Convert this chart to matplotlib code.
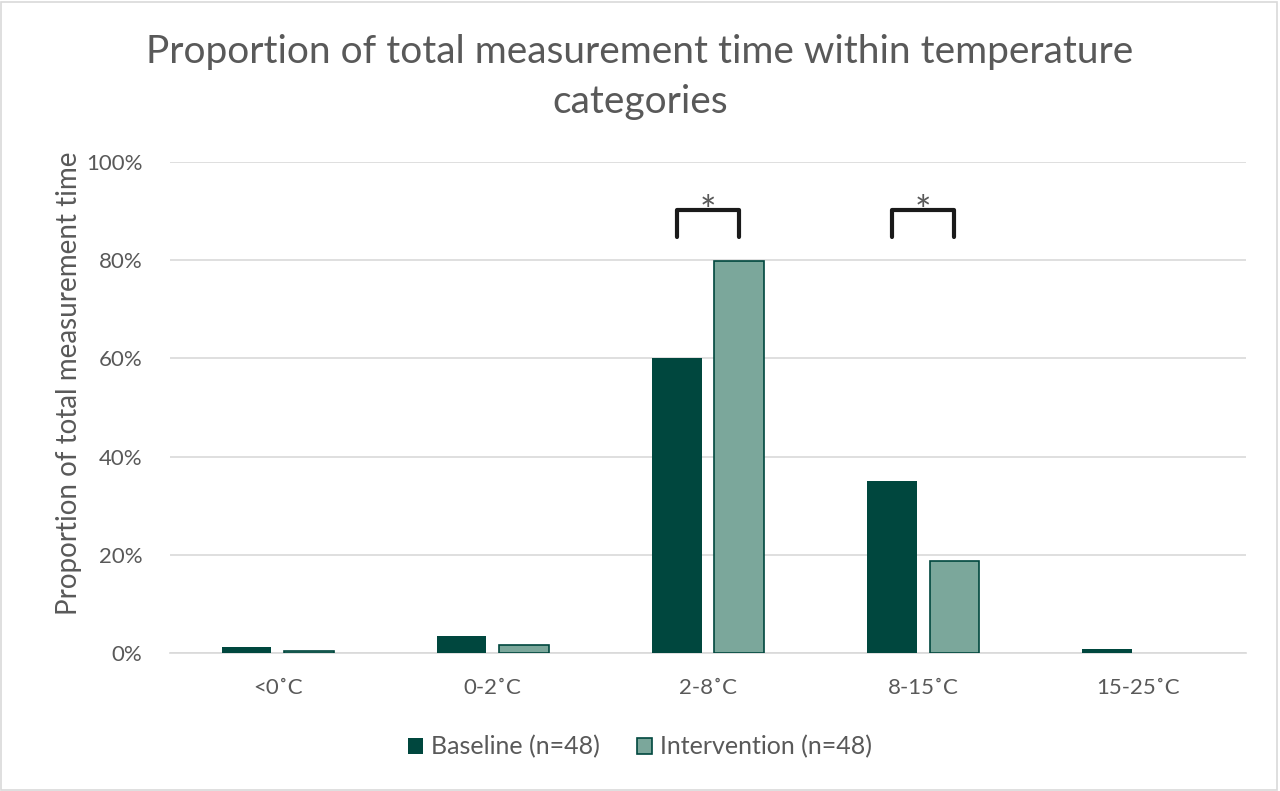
import matplotlib
matplotlib.use("Agg")
import matplotlib.pyplot as plt
import numpy as np

categories = ["<0˚C", "0-2˚C", "2-8˚C", "8-15˚C", "15-25˚C"]
baseline = [1.2, 3.5, 60.0, 35.0, 0.8]
intervention = [0.4, 1.6, 79.8, 18.7, 0.0]
series_names = ["Baseline (n=48)", "Intervention (n=48)"]
significant = ["2-8˚C", "8-15˚C"]

plt.rcParams['font.family'] = ['Lato', 'DejaVu Sans']
text_color = "#595959"
dark = "#00473e"
light = "#7ba79b"

fig = plt.figure(figsize=(12.8, 7.91), dpi=100)
ax = fig.add_axes([170 / 1280, 1 - 653 / 791, 1076 / 1280, 491 / 791])

x = np.arange(len(categories))
w = 0.23
off = 0.145
ax.bar(x - off, baseline, w, color=dark, label=series_names[0], zorder=3)
# no outline for empty bars
edge_w = [1.2 if v > 0 else 0 for v in intervention]
ax.bar(x + off, intervention, w, color=light, edgecolor=dark, linewidth=edge_w,
       label=series_names[1], zorder=3)

# significance brackets
for cat in significant:
    i = categories.index(cat)
    ax.plot([i - off, i - off, i + off, i + off], [84.7, 90.2, 90.2, 84.7],
            color="#1a1a1a", lw=3, solid_capstyle="round", solid_joinstyle="round",
            zorder=4, clip_on=False)
    ax.text(i, 89.6, "*", ha="center", va="center", fontsize=28, color=text_color)

ax.set_xlim(-0.5, len(categories) - 0.5)
ax.set_ylim(0, 100)
ax.set_yticks(range(0, 101, 20))
ax.set_yticklabels([f"{v}%" for v in range(0, 101, 20)])
ax.set_xticks(x)
ax.set_xticklabels(categories)
ax.tick_params(axis="both", length=0, labelsize=16, colors=text_color)
ax.tick_params(axis="x", pad=18)
ax.tick_params(axis="y", pad=20)
ax.yaxis.grid(True, color="#d9d9d9", lw=1.2, zorder=0)
for s in ["top", "right", "left"]:
    ax.spines[s].set_visible(False)
ax.spines["bottom"].set_color("#d9d9d9")
ax.spines["bottom"].set_linewidth(1.2)

ax.set_ylabel("Proportion of total measurement time", fontsize=20, color=text_color)
ax.yaxis.set_label_coords(-0.082, 0.55)

fig.text(0.5, 1 - 77 / 791, "Proportion of total measurement time within temperature\ncategories",
         ha="center", va="center", fontsize=28, color=text_color, linespacing=1.45)

fig.legend(loc="center", bbox_to_anchor=(0.5, 1 - 747 / 791), ncol=2, frameon=False,
           fontsize=18, labelcolor=text_color, handlelength=0.6, handleheight=0.6,
           columnspacing=1.5, handletextpad=0.3)

fig.patches.append(plt.Rectangle((0.001, 0.001), 0.997, 0.997, transform=fig.transFigure,
                                 fill=False, edgecolor="#d9d9d9", lw=1.2))

fig.savefig("out.png", dpi=100)
